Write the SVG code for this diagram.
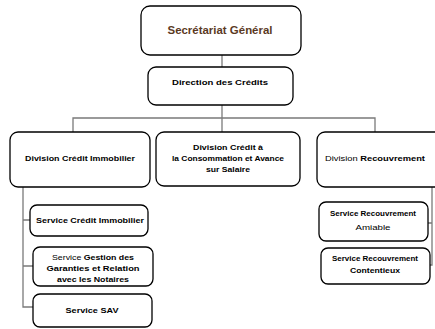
<svg xmlns="http://www.w3.org/2000/svg" width="435" height="329" viewBox="0 0 435 329">
<style>
.box{fill:#fff;stroke:#000;stroke-width:1.3}
.con{fill:none;stroke:#7a7a7a;stroke-width:1.3}
text{font-family:"Liberation Sans",Arial,sans-serif;font-weight:bold;font-size:8px;fill:#000;text-anchor:middle}
.n{font-weight:normal}
.top{font-size:10.5px;fill:#5b3a1f}
</style>
<rect width="435" height="329" fill="#fff"/>
<g id="connectors">
<path class="con" d="M222 55V67"/>
<path class="con" d="M222 105V132"/>
<path class="con" d="M73 132V118H375V132"/>
<path class="con" d="M23 187V307H33M23 220H30M23 266H33"/>
<path class="con" d="M432 186V265H430M432 223H428"/>
</g>
<g id="secretariat">
<rect class="box" x="141" y="6" width="160" height="49" rx="9"/>
<text class="top" x="220" y="34" textLength="105" lengthAdjust="spacingAndGlyphs">Secrétariat Général</text>
</g>
<g id="direction">
<rect class="box" x="148" y="67" width="145" height="38" rx="8"/>
<text x="220" y="85" textLength="96" lengthAdjust="spacingAndGlyphs">Direction des Crédits</text>
</g>
<g id="div-immobilier">
<rect class="box" x="10" y="132" width="140" height="55" rx="8"/>
<text x="80" y="161" textLength="110" lengthAdjust="spacingAndGlyphs">Division Crédit Immobilier</text>
</g>
<g id="div-consommation">
<rect class="box" x="156" y="132" width="144" height="54" rx="8"/>
<text x="228" y="150" textLength="70" lengthAdjust="spacingAndGlyphs">Division Crédit à</text>
<text x="228" y="161" textLength="112" lengthAdjust="spacingAndGlyphs">la Consommation et Avance</text>
<text x="228" y="172" textLength="44" lengthAdjust="spacingAndGlyphs">sur Salaire</text>
</g>
<g id="div-recouvrement">
<rect class="box" x="317" y="132" width="130" height="55" rx="8"/>
<text x="375" y="161" textLength="100" lengthAdjust="spacingAndGlyphs"><tspan class="n">Division </tspan>Recouvrement</text>
</g>
<g id="svc-credit-immobilier">
<rect class="box" x="30" y="205" width="118" height="31" rx="7"/>
<text x="90" y="223" textLength="108" lengthAdjust="spacingAndGlyphs">Service Crédit Immobilier</text>
</g>
<g id="svc-gestion">
<rect class="box" x="33" y="247" width="120" height="39" rx="7"/>
<text x="93" y="260" textLength="82" lengthAdjust="spacingAndGlyphs"><tspan class="n">Service </tspan>Gestion des</text>
<text x="93" y="271" textLength="93" lengthAdjust="spacingAndGlyphs">Garanties et Relation</text>
<text x="93" y="282" textLength="72" lengthAdjust="spacingAndGlyphs">avec les Notaires</text>
</g>
<g id="svc-sav">
<rect class="box" x="33" y="294" width="119" height="33" rx="7"/>
<text x="92" y="313" textLength="53" lengthAdjust="spacingAndGlyphs">Service SAV</text>
</g>
<g id="svc-amiable">
<rect class="box" x="319" y="202" width="109" height="39" rx="7"/>
<text x="373" y="216" textLength="86" lengthAdjust="spacingAndGlyphs">Service Recouvrement</text>
<text class="n" x="373" y="230" textLength="35" lengthAdjust="spacingAndGlyphs">Amiable</text>
</g>
<g id="svc-contentieux">
<rect class="box" x="321" y="248" width="109" height="36" rx="7"/>
<text x="375" y="261" textLength="86" lengthAdjust="spacingAndGlyphs">Service Recouvrement</text>
<text x="375" y="273" textLength="50" lengthAdjust="spacingAndGlyphs">Contentieux</text>
</g>
</svg>
